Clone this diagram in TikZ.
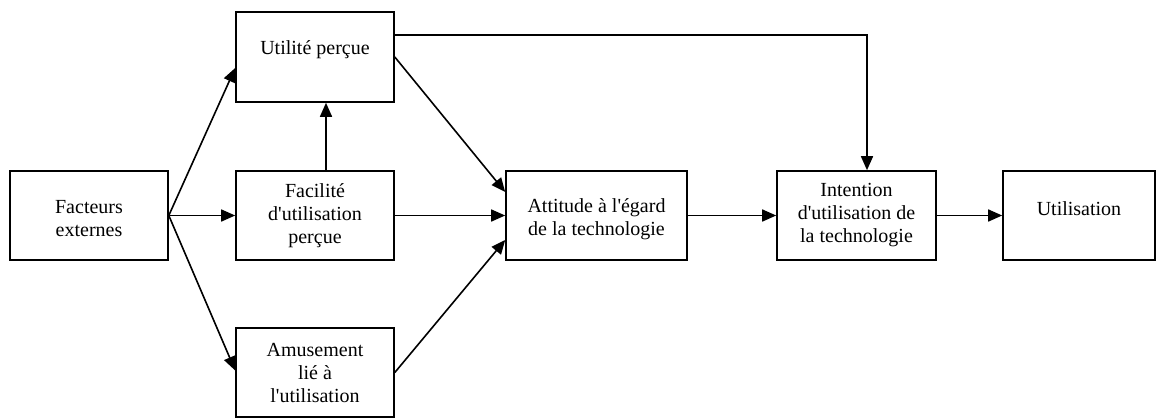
\documentclass[tikz,border=0pt]{standalone}
\usepackage{fontspec}
\setmainfont{Liberation Serif}[Ligatures=TeXOff]
\usetikzlibrary{arrows.meta,calc}
\begin{document}
\begin{tikzpicture}[x=1pt,y=-1pt,
  box/.style={draw, line width=1.6pt, inner sep=0pt, minimum height=89pt},
  txt/.style={align=center, inner sep=0pt, font=\fontsize{20}{23}\selectfont},
  arr/.style={line width=1.6pt, -{Triangle[length=14pt,width=12pt]}},
  ln/.style={line width=1.6pt}]
\useasboundingbox (0,0) rectangle (1157,418);
% boxes
\node[box, minimum width=158pt] (fe) at (89,215.5) {};
\node[box, minimum width=158pt, minimum height=90pt] (up) at (315,57) {};
\node[box, minimum width=158pt] (fu) at (315,215.5) {};
\node[box, minimum width=158pt] (am) at (315,372.5) {};
\node[box, minimum width=181pt] (at) at (596.5,215.5) {};
\node[box, minimum width=159pt] (in) at (856.5,215.5) {};
\node[box, minimum width=152pt] (ut) at (1079,215.5) {};
% texts
\node[txt] (fe-t) at ($(fe)+(0,3.5)$) {Facteurs\\externes};
\node[txt] (up-t) at ($(up)+(0,-7)$) {Utilité perçue};
\node[txt] (fu-t) at (fu) {Facilité\\d'utilisation\\perçue};
\node[txt] (am-t) at (am) {Amusement\\lié à\\l'utilisation};
\node[txt] (at-t) at ($(at)+(0,3.5)$) {Attitude à l'égard\\de la technologie};
\node[txt] (in-t) at (in) {Intention\\d'utilisation de\\la technologie};
\node[txt] (ut-t) at ($(ut)+(0,-7)$) {Utilisation};
% connectors
\draw[arr] (fe.east) -- ([yshift=-11pt]up.west);
\draw[arr] (fe.east) -- (fu.west);
\draw[arr] (fe.east) -- ([yshift=2pt]am.west);
\draw[arr] ([xshift=11pt]fu.north) -- ([xshift=11pt]up.south);
\draw[arr] (up.east) -- ([yshift=23.5pt]at.west);
\draw[arr] (fu.east) -- (at.west);
\draw[arr] (am.east) -- ([yshift=-24.5pt]at.west);
\draw[arr] (at.east) -- (in.west);
\draw[arr] (in.east) -- (ut.west);
\draw[arr] ([yshift=22pt]up.east) -| ([xshift=10.5pt]in.north);
\end{tikzpicture}
\end{document}
